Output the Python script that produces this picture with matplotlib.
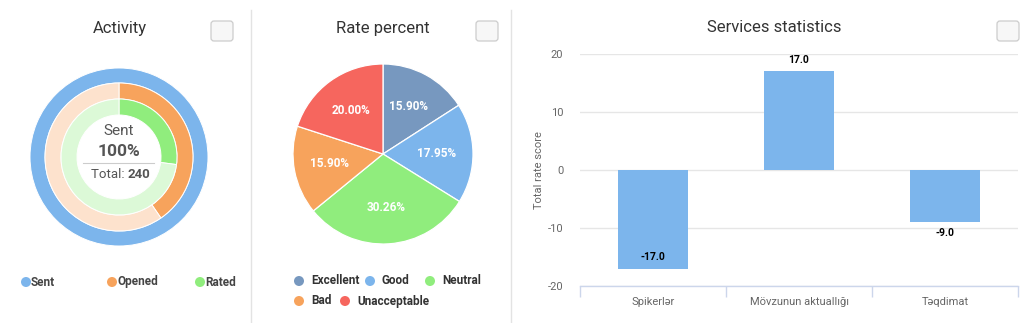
import matplotlib
matplotlib.use("Agg")
import matplotlib.pyplot as plt
from matplotlib.patches import FancyBboxPatch, Circle
from matplotlib.lines import Line2D

plt.rcParams['font.family'] = ['Roboto', 'DejaVu Sans']
plt.rcParams['axes.unicode_minus'] = False

# ---- data ----
activity_total = 240
activity_labels = ["Sent", "Opened", "Rated"]
activity_values = [240, 97, 65]

rate_labels = ["Excellent", "Good", "Neutral", "Bad", "Unacceptable"]
rate_values = [15.90, 17.95, 30.26, 15.90, 20.00]

service_labels = ["Spikerlər", "Mövzunun aktuallığı", "Təqdimat"]
service_values = [-17.0, 17.0, -9.0]
service_ticks = [-20, -10, 0, 10, 20]

# ---- style ----
BLUE = "#7cb5ec"
ORANGE = "#f7a35c"
GREEN = "#90ed7d"
PEACH = "#fde2cd"
PALE_GREEN = "#dcf9d7"
rate_colors = ["#7798bf", "#7cb5ec", "#90ed7d", "#f7a35c", "#f6665e"]
activity_colors = [BLUE, ORANGE, GREEN]
activity_rest = ["#e6f0fb", PEACH, PALE_GREEN]

W, H = 1024, 323
fig = plt.figure(figsize=(W / 100, H / 100), dpi=100)
fig.patch.set_facecolor("white")


def px_axes(x0, y0, x1, y1, **kw):
    return fig.add_axes([x0 / W, 1 - y1 / H, (x1 - x0) / W, (y1 - y0) / H], **kw)


# overlay in pixel coordinates for titles, separators, legends
ov = px_axes(0, 0, W, H, zorder=5)
ov.set_xlim(0, W)
ov.set_ylim(H, 0)
ov.axis("off")

for sx in (251, 511):
    ov.add_line(Line2D([sx, sx], [10, H], color="#e3e3e3", lw=1))


def checkbox(x, y):
    ov.add_patch(FancyBboxPatch((x, y), 22, 20, boxstyle="round,pad=0,rounding_size=3",
                                fc="#f7f7f7", ec="#cccccc", lw=0.9))


title_kw = dict(ha="center", va="center", fontsize=12, color="#333333")
ov.text(120, 28, "Activity", **title_kw)
ov.text(383, 28, "Rate percent", **title_kw)
ov.text(774, 28, "Services statistics", **title_kw)
checkbox(211, 21)
checkbox(476, 21)
checkbox(997, 21)

# ---- Activity: concentric progress rings ----
cx, cy, R = 119, 157, 95
ax1 = px_axes(cx - R, cy - R, cx + R, cy + R)
ax1.set_aspect("equal")
ax1.axis("off")
ring_outer = [89, 74, 58]
ring_width = [15, 16, 16]
for val, col, rest, ro, rw in zip(activity_values, activity_colors, activity_rest,
                                  ring_outer, ring_width):
    parts = [val, activity_total - val]
    cols = [col, rest]
    if parts[1] == 0:
        parts, cols = [val], [col]
    ax1.pie(parts, colors=cols, radius=ro, startangle=90, counterclock=False,
            wedgeprops=dict(width=rw, edgecolor="white", linewidth=0.7))
ax1.set_xlim(-R, R)
ax1.set_ylim(-R, R)

ov.text(119, 131, "Sent", ha="center", va="center", fontsize=11, color="#555555")
ov.text(119, 152, f"{round(100 * activity_values[0] / activity_total)}%", ha="center",
        va="center", fontsize=12.5, fontweight="bold", color="#555555")
ov.add_line(Line2D([83, 154], [163, 163], color="#cccccc", lw=0.8))
ov.text(128, 175, "Total: ", ha="right", va="center", fontsize=9.5, color="#555555")
ov.text(128, 175, f"{activity_total}", ha="left", va="center", fontsize=9.5,
        fontweight="bold", color="#555555")

for lx, lab, col in zip([26, 112, 200], activity_labels, activity_colors):
    ov.add_patch(Circle((lx, 282), 5, fc=col, ec="none"))
    ov.text(lx + 5, 282, lab, ha="left", va="center", fontsize=8.5,
            fontweight="bold", color="#444444")

# ---- Rate percent: pie ----
px, py, PR = 383, 154, 95
ax2 = px_axes(px - PR, py - PR, px + PR, py + PR)
ax2.set_aspect("equal")
ax2.axis("off")
ax2.pie(rate_values, colors=rate_colors, radius=90, startangle=90, counterclock=False,
        labels=[f"{v:.2f}%" for v in rate_values], labeldistance=0.6,
        textprops=dict(color="white", fontsize=8.5, fontweight="bold", ha="center", va="center"),
        wedgeprops=dict(edgecolor="white", linewidth=0.9))
ax2.set_xlim(-PR, PR)
ax2.set_ylim(-PR, PR)

legend_pos = [(299, 281), (370, 281), (430, 281), (299, 301), (345, 301)]
for (lx, ly), lab, col in zip(legend_pos, rate_labels, rate_colors):
    ov.add_patch(Circle((lx, ly), 5, fc=col, ec="none"))
    ov.text(lx + 12, ly, lab, ha="left", va="center", fontsize=8.5,
            fontweight="bold", color="#333333")

# ---- Services statistics: bars ----
ax3 = px_axes(580, 54, 1018, 286)
x = list(range(len(service_values)))
ax3.bar(x, service_values, width=0.48, color=BLUE, zorder=3)
ax3.set_xlim(-0.5, len(service_values) - 0.5)
ax3.set_ylim(service_ticks[0], service_ticks[-1])
ax3.set_yticks(service_ticks)
ax3.set_yticklabels([str(t) for t in service_ticks])
ax3.grid(axis="y", color="#e6e6e6", lw=1, zorder=0)
ax3.set_xticks(x)
ax3.set_xticklabels(service_labels)
ax3.set_xticks([i - 0.5 for i in range(len(service_values) + 1)], minor=True)
ax3.tick_params(axis="x", which="major", length=0, pad=8, labelsize=8, labelcolor="#666666")
ax3.tick_params(axis="x", which="minor", length=8, color="#ccd6eb", width=1)
ax3.tick_params(axis="y", length=0, pad=12, labelsize=8, labelcolor="#666666")
for s in ("top", "right", "left"):
    ax3.spines[s].set_visible(False)
ax3.spines["bottom"].set_color("#ccd6eb")
ax3.spines["bottom"].set_linewidth(1)
ax3.set_ylabel("Total rate score", fontsize=8, color="#666666", labelpad=3)

for xi, v in zip(x, service_values):
    if v >= 0:
        off = 8
    elif v - 4 <= service_ticks[0]:
        off = 8
    else:
        off = -8
    ax3.annotate(f"{v:.1f}", (xi, v), xytext=(0, off), textcoords="offset points",
                 ha="center", va="center", fontsize=7.5, fontweight="bold", color="#000000",
                 zorder=4)

fig.savefig("out.png", dpi=100)
